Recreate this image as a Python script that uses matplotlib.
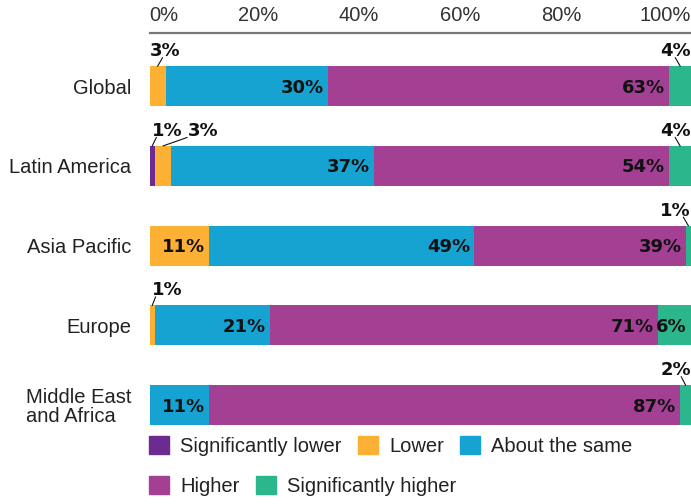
import matplotlib.pyplot as plt
from matplotlib.patches import Patch

plt.rcParams['font.family'] = ['Liberation Sans', 'DejaVu Sans']

# survey answers per region, in percent
regions = ["Global", "Latin America", "Asia Pacific", "Europe", "Middle East\nand Africa"]
sig_lower = [0, 1, 0, 0, 0]
lower = [3, 3, 11, 1, 0]
same = [30, 37, 49, 21, 11]
higher = [63, 54, 39, 71, 87]
sig_higher = [4, 4, 1, 6, 2]

series_names = ["Significantly lower", "Lower", "About the same", "Higher", "Significantly higher"]
colors = ["#6b2b90", "#fcb034", "#16a3d1", "#a34094", "#2bb78b"]

tick_labels = ["0%", "20%", "40%", "60%", "80%", "100%"]
# the labels in the original are spread evenly across the top, not on the scale
tick_pos = [0, 20, 38.6, 57.3, 76.0, 100]

# small values get their label above the bar with a short leader line
# (row, series) -> (text x, alignment, lean of the line)
small = {
    (0, 1): (0.1, 'left', 0.9),
    (0, 4): (100, 'right', -0.9),
    (1, 0): (0.5, 'left', 0.75),
    (1, 1): (7.0, 'left', 4.4),
    (1, 4): (100, 'right', -0.9),
    (2, 4): (100, 'right', -0.9),
    (3, 1): (0.5, 'left', 0.6),
    (4, 4): (100, 'right', -0.8),
}

values = [sig_lower, lower, same, higher, sig_higher]
bold = dict(fontfamily='DejaVu Sans', fontweight='bold', fontsize=13, color='#111111')

fig = plt.figure(figsize=(6.91, 5.04), dpi=100)
ax = fig.add_axes([0.2164, 0.1567, 0.7836, 0.7778])

bar_h = 0.5
for i in range(len(regions)):
    total = sum(v[i] for v in values)
    left = 0
    for s, vals in enumerate(values):
        w = vals[i] / total * 100
        if w > 0:
            ax.barh(i, w, left=left, height=bar_h, color=colors[s], linewidth=0)
        if vals[i] >= 5:
            ax.text(left + w - 0.75, i + 0.082, f"{vals[i]}%", ha='right', va='baseline', **bold)
        elif vals[i] > 0:
            tx, ha, dx = small[(i, s)]
            mid = left + w / 2
            top = i - bar_h / 2
            ax.text(tx, top - 0.125, f"{vals[i]}%", ha=ha, va='baseline', clip_on=False, **bold)
            ax.plot([mid + dx, mid], [top - 0.105, top], color='#111111', lw=0.8, clip_on=False)
        left += w

ax.set_xlim(0, 100)
ax.set_ylim(4.25, -0.665)

ax.xaxis.tick_top()
ax.set_xticks(tick_pos, tick_labels)
ax.tick_params(axis='x', length=0, pad=6, labelsize=14.5, labelcolor='#333333')
xl = ax.get_xticklabels()
xl[0].set_horizontalalignment('left')
xl[-1].set_horizontalalignment('right')

ax.set_yticks(range(len(regions)), regions)
ax.tick_params(axis='y', length=0, pad=13.3, labelsize=14.5, labelcolor='#222222')
for lbl in ax.get_yticklabels():
    lbl.set_multialignment('left')
    lbl.set_linespacing(1.0)

for side in ['left', 'right', 'bottom']:
    ax.spines[side].set_visible(False)
ax.spines['top'].set_color('#777777')
ax.spines['top'].set_linewidth(1.6)

handles = [Patch(color=c) for c in colors]
leg_kw = dict(loc='center left', frameon=False, fontsize=14.5, handlelength=1.0, handleheight=1.0,
              handletextpad=0.55, columnspacing=0.8, borderpad=0, borderaxespad=0,
              labelcolor='#222222')
fig.legend(handles[:3], series_names[:3], ncol=3, bbox_to_anchor=(149 / 691, 1 - 446 / 504), **leg_kw)
fig.legend(handles[3:], series_names[3:], ncol=2, bbox_to_anchor=(149 / 691, 1 - 486 / 504), **leg_kw)

fig.savefig('out.png', dpi=100)
